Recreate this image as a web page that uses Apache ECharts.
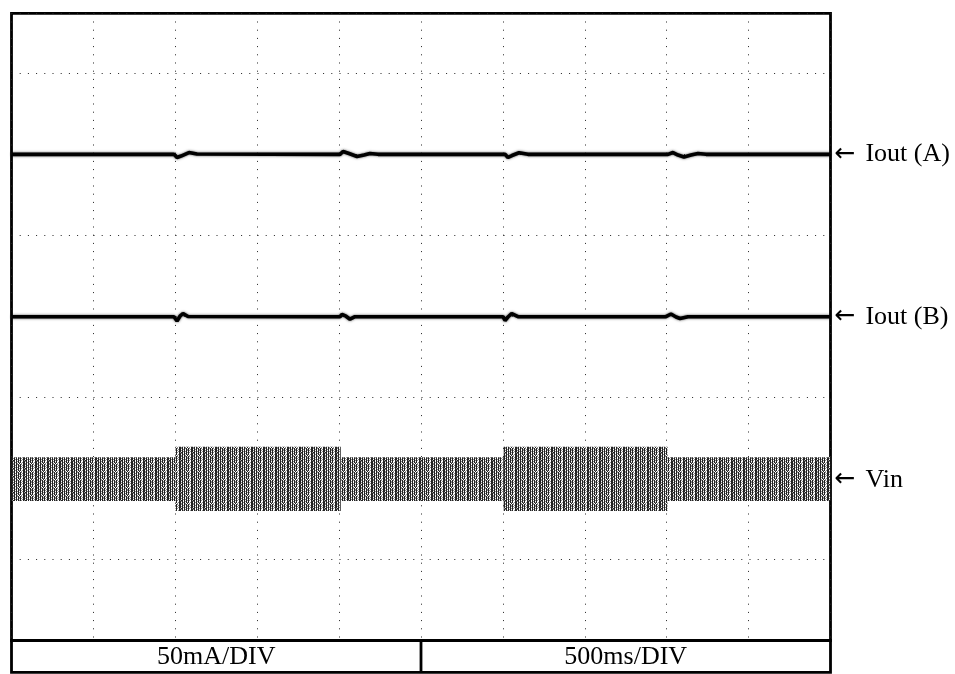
<!DOCTYPE html>
<html><head><meta charset="utf-8">
<script src="https://cdn.jsdelivr.net/npm/echarts@6/dist/echarts.min.js"></script>
<style>html,body{margin:0;padding:0;background:#fff}#c{width:955px;height:674px}</style>
</head><body><div id="c"></div>
<script>
// Oscilloscope screen, units = divisions (x: 500ms/div, y: 50mA/div)
const xRange = [0, 10];
const yRange = [0, 7.734];

// Iout (A) trace: [x div, y div]
const ioutA_x = [0, 1.984, 2.021, 2.070, 2.167, 2.265, 4.011, 4.048, 4.121, 4.219, 4.304, 4.377, 4.475, 6.026, 6.062, 6.111, 6.197, 6.306, 8.016, 8.077, 8.138, 8.211, 8.297, 8.382, 8.480, 10];
const ioutA_y = [5.995, 5.995, 5.956, 5.974, 6.017, 5.999, 5.995, 6.030, 6.005, 5.968, 5.986, 6.005, 5.995, 5.995, 5.956, 5.980, 6.014, 5.995, 5.995, 6.017, 5.986, 5.962, 5.986, 6.005, 5.995, 5.995];

// Iout (B) trace
const ioutB_x = [0, 1.984, 2.021, 2.057, 2.094, 2.155, 4.011, 4.035, 4.084, 4.133, 4.194, 6.001, 6.026, 6.062, 6.107, 6.184, 7.991, 8.052, 8.114, 8.163, 8.260, 10];
const ioutB_y = [3.993, 3.993, 3.940, 3.999, 4.032, 3.995, 3.993, 4.020, 3.999, 3.962, 3.993, 3.993, 3.946, 3.989, 4.032, 3.993, 3.993, 4.026, 3.989, 3.970, 3.993, 3.993];

// Vin envelope segments
const vinEdges = [0, 2.0, 4.02, 6.01, 8.01, 10];
const vinTop = [2.259, 2.390, 2.259, 2.390, 2.259];
const vinBottom = [1.720, 1.597, 1.720, 1.597, 1.720];
const vinCenter = 1.98;

const traceLabels = ['Iout (A)', 'Iout (B)', 'Vin'];
const scaleLabels = ['50mA/DIV', '500ms/DIV'];

function makePattern() {
  const rows = [
    "#:#.#:#.#:.#",
    "#.#:#.#:#.:#",
    "#:#.#.#:#:.#",
    "#.#:#:#.#.:#",
    ":##.#.#:#:.#",
    "#:#.#:#.#..#",
    "#.#:#.#:#.:#",
    "#:#.#:.#.:.#"
  ];
  const c = document.createElement('canvas');
  c.width = rows[0].length; c.height = rows.length;
  const ctx = c.getContext('2d');
  const col = {'#': '#222', ':': '#8a8a8a', '.': '#ffffff'};
  rows.forEach((r, y) => { for (let x = 0; x < r.length; x++) { ctx.fillStyle = col[r[x]]; ctx.fillRect(x, y, 1, 1); } });
  return c;
}
const pattern = {image: makePattern(), repeat: 'repeat'};

const G = {left: 11.5, top: 13.3, width: 819, height: 627.2};
const boxH = 31.8;
const font = '"Liberation Serif", "Times New Roman", serif';

const chart = echarts.init(document.getElementById('c'), null, {renderer: 'canvas'});
const dotted = {show: true, lineStyle: {color: '#222', width: 1, type: [1, 7.2]}};
const lbl = (t) => ({show: true, formatter: '{a|←}' + t, fontSize: 26, fontFamily: font, color: '#000', distance: 4,
  rich: {a: {fontFamily: '"DejaVu Sans"', fontSize: 25, color: '#000', padding: [0, 10, 0, 0]}}});

const vinSegs = vinTop.map((t, i) => [vinEdges[i], vinEdges[i + 1], vinBottom[i], t]);

chart.setOption({
  animation: false,
  backgroundColor: '#fff',
  grid: Object.assign({show: true, borderColor: '#000', borderWidth: 2.8, backgroundColor: 'transparent'}, G),
  xAxis: {type: 'value', min: xRange[0], max: xRange[1], interval: 1, axisLine: {show: false}, axisTick: {show: false}, axisLabel: {show: false}, splitLine: dotted},
  yAxis: {type: 'value', min: yRange[0], max: yRange[1], interval: 1, axisLine: {show: false}, axisTick: {show: false}, axisLabel: {show: false}, splitLine: dotted},
  series: [
    {type: 'custom', data: vinSegs, encode: {x: [0, 1], y: [2, 3]}, z: 2,
      renderItem: function (params, api) {
        const p0 = api.coord([api.value(0), api.value(3)]);
        const p1 = api.coord([api.value(1), api.value(2)]);
        return {type: 'rect', shape: {x: p0[0], y: p0[1], width: p1[0] - p0[0], height: p1[1] - p0[1]}, style: {fill: pattern}};
      }},
    {type: 'line', data: [[xRange[0], vinCenter], [xRange[1], vinCenter]], symbol: 'none', lineStyle: {width: 0, opacity: 0}, endLabel: lbl(traceLabels[2]), z: 1},
    {type: 'line', data: ioutA_x.map((x, i) => [x, ioutA_y[i]]), symbol: 'none', z: 3,
      lineStyle: {color: '#000', width: 3.6, shadowColor: 'rgba(0,0,0,0.7)', shadowBlur: 2.5}, endLabel: lbl(traceLabels[0])},
    {type: 'line', data: ioutB_x.map((x, i) => [x, ioutB_y[i]]), symbol: 'none', z: 3,
      lineStyle: {color: '#000', width: 3.6, shadowColor: 'rgba(0,0,0,0.7)', shadowBlur: 2.5}, endLabel: lbl(traceLabels[1])}
  ],
  graphic: [
    {type: 'rect', shape: {x: G.left, y: G.top + G.height, width: G.width, height: boxH}, style: {fill: 'none', stroke: '#000', lineWidth: 2.8}, z: 10},
    {type: 'line', shape: {x1: G.left + G.width / 2, y1: G.top + G.height, x2: G.left + G.width / 2, y2: G.top + G.height + boxH}, style: {stroke: '#000', lineWidth: 2.8}, z: 10},
    {type: 'text', x: G.left + G.width / 4, y: G.top + G.height + boxH / 2 + 1, style: {text: scaleLabels[0], font: '26px ' + font, fill: '#000', textAlign: 'center', textVerticalAlign: 'middle'}, z: 10},
    {type: 'text', x: G.left + 3 * G.width / 4, y: G.top + G.height + boxH / 2 + 1, style: {text: scaleLabels[1], font: '26px ' + font, fill: '#000', textAlign: 'center', textVerticalAlign: 'middle'}, z: 10}
  ]
});
</script></body></html>
